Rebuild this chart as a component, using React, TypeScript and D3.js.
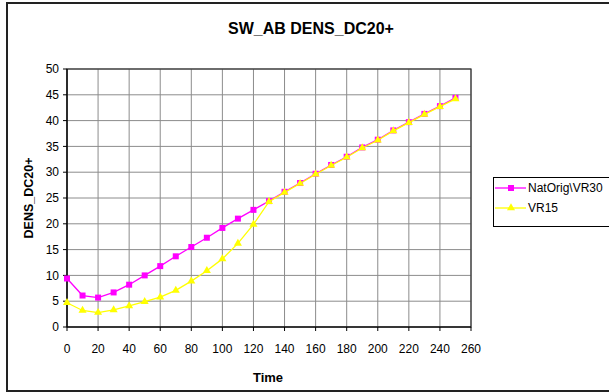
import React from "react";
import * as d3 from "d3";

const times = [0, 10, 20, 30, 40, 50, 60, 70, 80, 90, 100, 110, 120, 130, 140, 150, 160, 170, 180, 190, 200, 210, 220, 230, 240, 250];
const natOrig = [9.4, 6.1, 5.7, 6.7, 8.2, 10.0, 11.8, 13.7, 15.5, 17.3, 19.2, 21.0, 22.7, 24.4, 26.2, 27.9, 29.7, 31.4, 33.0, 34.8, 36.3, 38.1, 39.7, 41.3, 42.8, 44.4];
const vr15 = [4.7, 3.2, 2.8, 3.3, 4.1, 4.9, 5.8, 7.1, 8.9, 10.9, 13.2, 16.2, 19.9, 24.3, 26.1, 27.8, 29.6, 31.3, 32.9, 34.7, 36.2, 38.0, 39.6, 41.2, 42.7, 44.2];
const xTicks = [0, 20, 40, 60, 80, 100, 120, 140, 160, 180, 200, 220, 240, 260];
const yTicks = [0, 5, 10, 15, 20, 25, 30, 35, 40, 45, 50];
const seriesNames = ["NatOrig\\VR30", "VR15"];

const W = 609;
const H = 392;
const FONT = "'Liberation Sans', Arial, sans-serif";

export default function App() {
  const x = d3.scaleLinear().domain([0, 260]).range([67, 471]);
  const y = d3.scaleLinear().domain([0, 50]).range([327, 69]);
  const line = d3
    .line<[number, number]>()
    .x((d) => x(d[0]))
    .y((d) => y(d[1]));
  const magPts: [number, number][] = times.map((t, i) => [t, natOrig[i]]);
  const yelPts: [number, number][] = times.map((t, i) => [t, vr15[i]]);
  const tri = d3.symbol().type(d3.symbolTriangle).size(28)();

  return (
    <svg
      width={W}
      height={H}
      style={{ position: "absolute", left: 0, top: 0, background: "#fff" }}
      fontFamily={FONT}
    >
      <rect x={0} y={0} width={W} height={H} fill="#fff" />
      <rect x={7} y={3} width={640} height={388} fill="#fff" stroke="#222" strokeWidth={2} />
      <text x={311} y={34} textAnchor="middle" fontSize={16} fontWeight="bold">
        SW_AB DENS_DC20+
      </text>

      {/* grid */}
      {yTicks.map((t) => (
        <line key={"gy" + t} x1={x(0)} x2={x(260)} y1={y(t)} y2={y(t)} stroke="#8c8c8c" strokeWidth={1} />
      ))}
      {xTicks.map((t) => (
        <line key={"gx" + t} x1={x(t)} x2={x(t)} y1={y(0)} y2={y(50)} stroke="#8c8c8c" strokeWidth={1} />
      ))}
      <rect x={x(0)} y={y(50)} width={x(260) - x(0)} height={y(0) - y(50)} fill="none" stroke="#333" strokeWidth={1.2} />

      {/* axes */}
      <line x1={x(0)} x2={x(0)} y1={y(0)} y2={y(50)} stroke="#000" strokeWidth={1.2} />
      <line x1={x(0)} x2={x(260)} y1={y(0)} y2={y(0)} stroke="#000" strokeWidth={1.2} />
      {yTicks.map((t) => (
        <g key={"yt" + t}>
          <line x1={x(0) - 4} x2={x(0)} y1={y(t)} y2={y(t)} stroke="#000" />
          <text x={59} y={y(t)} dy="0.35em" textAnchor="end" fontSize={12}>
            {t}
          </text>
        </g>
      ))}
      {xTicks.map((t) => (
        <g key={"xt" + t}>
          <line x1={x(t)} x2={x(t)} y1={y(0)} y2={y(0) + 4} stroke="#000" />
          <text x={x(t)} y={349} dy="0.35em" textAnchor="middle" fontSize={12}>
            {t}
          </text>
        </g>
      ))}
      <text x={268} y={377} dy="0.35em" textAnchor="middle" fontSize={13} fontWeight="bold">
        Time
      </text>
      <text
        transform={`translate(29,${y(25)}) rotate(-90)`}
        textAnchor="middle"
        dy="0.35em"
        fontSize={12.5}
        fontWeight="bold"
      >
        DENS_DC20+
      </text>

      {/* series */}
      <path d={line(magPts) || ""} fill="none" stroke="#ff00ff" strokeWidth={1.3} />
      {magPts.map((p, i) => (
        <rect key={"m" + i} x={x(p[0]) - 3} y={y(p[1]) - 3} width={6} height={6} fill="#ff00ff" />
      ))}
      <path d={line(yelPts) || ""} fill="none" stroke="#ffff00" strokeWidth={1.3} />
      {yelPts.map((p, i) => (
        <path key={"y" + i} d={tri || ""} transform={`translate(${x(p[0])},${y(p[1])})`} fill="#ffff00" />
      ))}

      {/* legend */}
      <rect x={493.5} y={177.5} width={140} height={49} fill="#fff" stroke="#000" strokeWidth={1} />
      <line x1={495} x2={526} y1={188} y2={188} stroke="#ff00ff" strokeWidth={1.3} />
      <rect x={508} y={185} width={6} height={6} fill="#ff00ff" />
      <text x={528} y={188} dy="0.35em" fontSize={12}>
        {seriesNames[0]}
      </text>
      <line x1={495} x2={526} y1={208} y2={208} stroke="#ffff00" strokeWidth={1.3} />
      <path d={tri || ""} transform="translate(511,208)" fill="#ffff00" />
      <text x={528} y={208} dy="0.35em" fontSize={12}>
        {seriesNames[1]}
      </text>
    </svg>
  );
}
